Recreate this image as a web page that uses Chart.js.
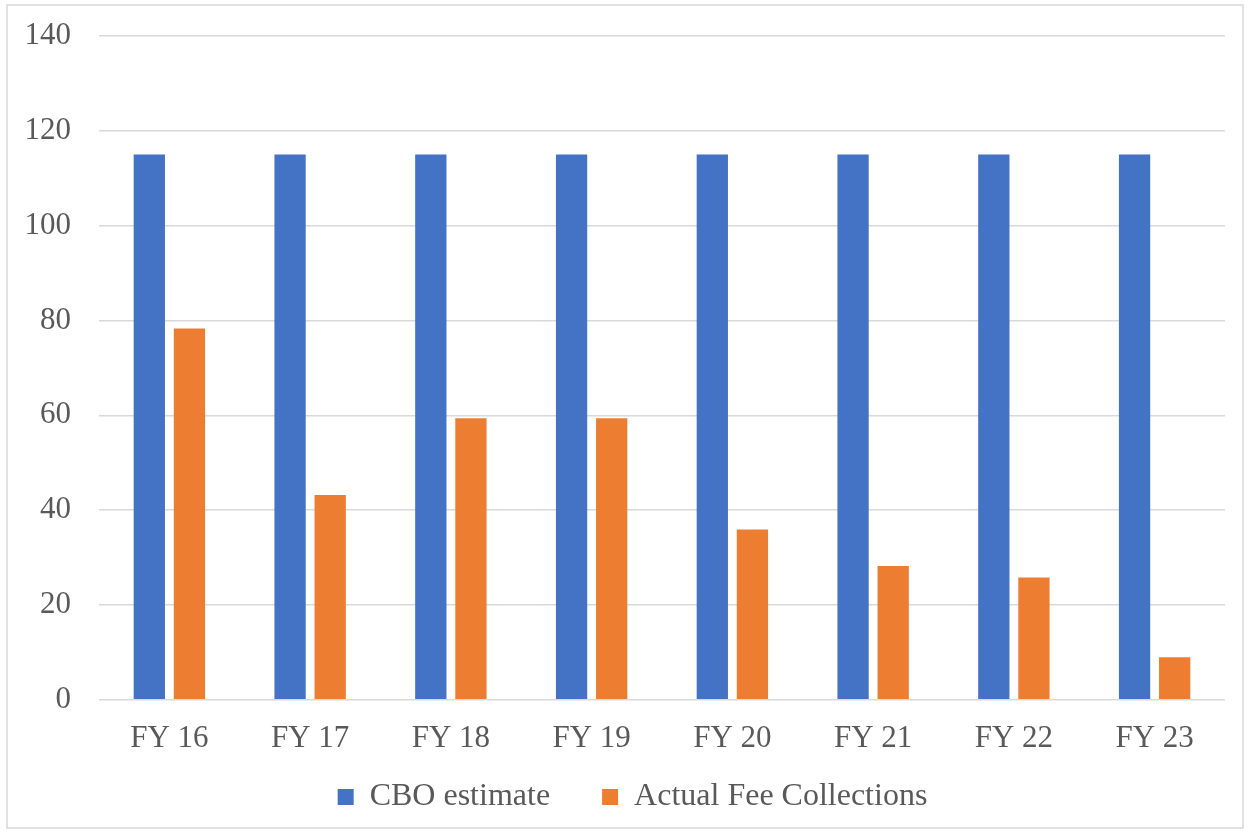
<!DOCTYPE html>
<html>
<head>
<meta charset="utf-8">
<script src="https://cdn.jsdelivr.net/npm/chart.js@4.4.1/dist/chart.umd.min.js"></script>
<style>
  html, body { margin: 0; padding: 0; background: #fff; }
  #wrap { width: 1250px; height: 833px; position: relative; }
</style>
</head>
<body>
<div id="wrap"><canvas id="chart" width="1250" height="833"></canvas></div>
<script>
// data
const years = ["FY 16", "FY 17", "FY 18", "FY 19", "FY 20", "FY 21", "FY 22", "FY 23"];
const cboEstimate = [115, 115, 115, 115, 115, 115, 115, 115];
const actualFees = [78.3, 43.2, 59.4, 59.4, 35.9, 28.2, 25.8, 9.0];
const yTicks = { min: 0, max: 140, step: 20 };

const textColor = "#595959";
const gridColor = "#d9d9d9";
const serif = "'Liberation Serif', 'DejaVu Serif', serif";

// light frame round the whole chart, like the Excel chart border
const framePlugin = {
  id: "frame",
  beforeDraw(chart) {
    const ctx = chart.ctx;
    ctx.save();
    ctx.fillStyle = "#fff";
    ctx.fillRect(0, 0, chart.width, chart.height);
    ctx.strokeStyle = gridColor;
    ctx.lineWidth = 1.5;
    ctx.strokeRect(7, 5, chart.width - 14, chart.height - 10);
    ctx.restore();
  }
};

// Excel centres the legend a bit right of the plot centre
const legendShift = {
  id: "legendShift",
  afterLayout(chart) {
    chart.legend.left += 20;
    chart.legend.right += 20;
  }
};

const ctx = document.getElementById("chart").getContext("2d");
new Chart(ctx, {
  type: "bar",
  data: {
    labels: years,
    datasets: [
      { label: "CBO estimate", data: cboEstimate, backgroundColor: "#4472c4" },
      { label: "Actual Fee Collections", data: actualFees, backgroundColor: "#ed7d31" }
    ]
  },
  options: {
    responsive: false,
    animation: false,
    devicePixelRatio: 1,
    layout: { padding: { top: 36, right: 25, bottom: 10, left: 0 } },
    datasets: { bar: { categoryPercentage: 0.57, barPercentage: 0.78 } },
    plugins: {
      legend: {
        position: "bottom",
        labels: {
          color: textColor,
          font: { family: serif, size: 32 },
          boxWidth: 16,
          boxHeight: 16,
          padding: 4,
          // legend padding is small for height, so widen the gap after the first item
          generateLabels(chart) {
            const items = Chart.defaults.plugins.legend.labels.generateLabels(chart);
            items.forEach((it, i) => { if (i < items.length - 1) it.text += "      "; });
            return items;
          }
        }
      },
      tooltip: { enabled: false }
    },
    scales: {
      x: {
        grid: { display: false, drawTicks: false },
        border: { display: false },
        ticks: { color: textColor, font: { family: serif, size: 31 }, padding: 20 }
      },
      y: {
        min: yTicks.min,
        max: yTicks.max,
        grid: { color: gridColor, lineWidth: 1.5, drawTicks: false },
        border: { display: false },
        ticks: { stepSize: yTicks.step, color: textColor, font: { family: serif, size: 31 }, padding: 28 },
        afterFit(scale) {
          scale.width = 99;
          scale.paddingTop = 0;
          scale.paddingBottom = 0;
        }
      }
    }
  },
  plugins: [framePlugin, legendShift]
});
</script>
</body>
</html>
